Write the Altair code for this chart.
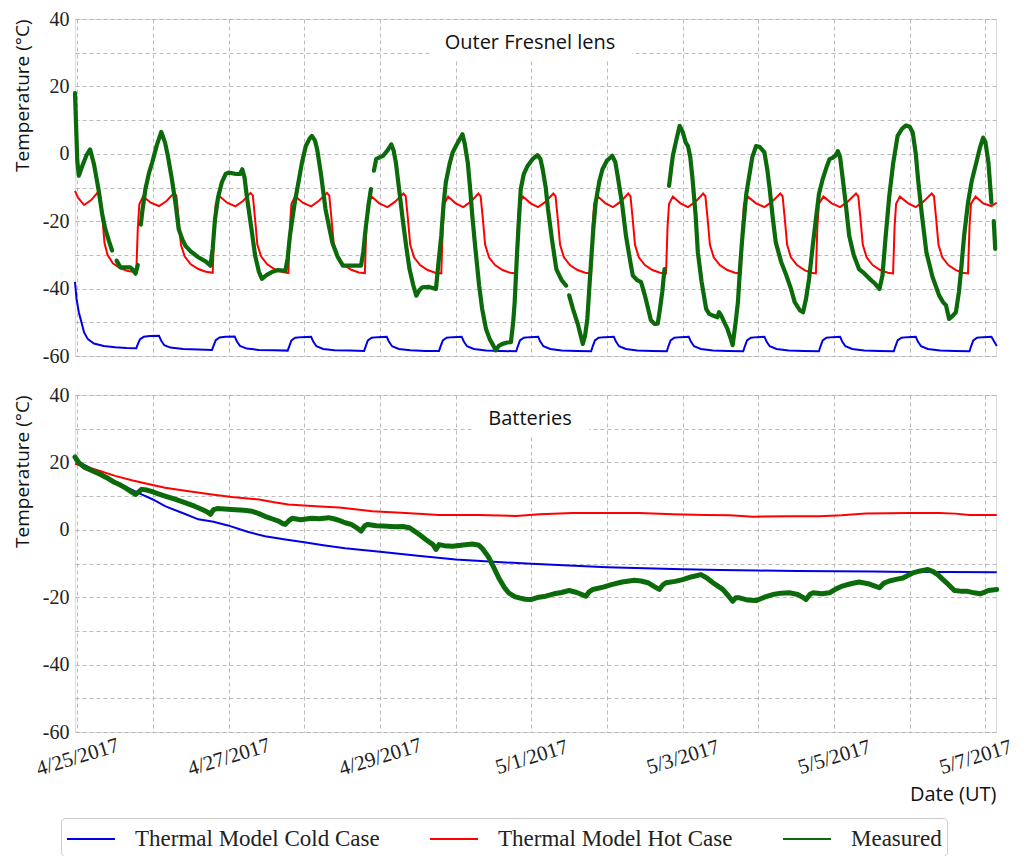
import altair as alt
import pandas as pd

# ---------------- data (t = days since 2017-04-25 00:00 UT) ----------------
series_names = ["Thermal Model Cold Case", "Thermal Model Hot Case", "Measured"]
series_colors = ["#0000e6", "#ff0000", "#0b6b0b"]
panel_titles = ["Outer Fresnel lens", "Batteries"]
x_tick_days = list(range(0, 13))
x_tick_labels = ["4/25/2017", "", "4/27/2017", "", "4/29/2017", "", "5/1/2017", "",
                 "5/3/2017", "", "5/5/2017", "", "5/7/2017"]
y_ticks = [-60, -50, -40, -30, -20, -10, 0, 10, 20, 30, 40]

# Outer Fresnel lens -- measured (None = gap in the record)
lens_measured = [
    (-0.03, 18.0), (-0.015, 8.0), (0.00, -2.0), (0.02, -6.5), (0.06, -4.0), (0.12, -0.5), (0.17, 1.3),
    (0.22, -3.0), (0.28, -10.5), (0.33, -18.0), (0.37, -22.3), (0.42, -26.0), (0.46, -28.7), None,
    (0.52, -31.7), (0.57, -33.7), (0.70, -33.7), (0.74, -34.5), (0.77, -35.6), (0.80, -33.0), None,
    (0.84, -21.0), (0.86, -17.0), (0.90, -10.5), (0.95, -5.5), (0.99, -2.6), (1.05, 2.5), (1.11, 6.5),
    (1.16, 3.3), (1.20, -1.0), (1.25, -7.5), (1.30, -15.0), (1.34, -22.3), (1.39, -25.5), (1.43, -27.3),
    (1.50, -29.0), (1.60, -30.7), (1.70, -32.0), (1.76, -33.2), (1.79, -28.0), (1.82, -19.4), (1.86, -13.0),
    (1.91, -8.5), (1.96, -6.0), (2.00, -5.6), (2.10, -6.0), (2.15, -6.0), (2.18, -4.6), (2.21, -7.0),
    (2.24, -12.5), (2.30, -22.0), (2.35, -30.2), (2.40, -35.0), (2.44, -37.1), (2.50, -36.0), (2.57, -35.1),
    (2.65, -34.5), (2.75, -34.7), (2.78, -31.0), (2.81, -24.3), (2.87, -15.0), (2.93, -7.5), (2.97, -2.5),
    (3.02, 2.3), (3.07, 4.5), (3.10, 5.3), (3.14, 4.0), (3.17, 1.3), (3.22, -6.0), (3.28, -16.4),
    (3.33, -22.0), (3.37, -26.3), (3.44, -30.5), (3.51, -33.2), (3.60, -33.2), (3.75, -33.2), (3.78, -29.0),
    (3.81, -22.3), (3.85, -15.0), (3.88, -10.5), None, (3.92, -5.0), (3.95, -1.6), (4.00, -1.0),
    (4.04, -0.6), (4.10, 1.0), (4.15, 2.8), (4.18, 1.0), (4.21, -2.6), (4.25, -10.0), (4.30, -19.4),
    (4.35, -28.0), (4.39, -34.2), (4.44, -39.0), (4.48, -42.1), (4.52, -40.5), (4.56, -39.6), (4.65, -39.5),
    (4.74, -40.1), (4.77, -33.0), (4.81, -24.3), (4.84, -15.0), (4.87, -8.5), (4.92, -3.0), (4.96, 0.4),
    (5.02, 3.0), (5.09, 5.8), (5.12, 3.0), (5.16, -2.6), (5.19, -10.0), (5.22, -18.4), (5.26, -28.0),
    (5.31, -39.1), (5.35, -46.0), (5.40, -51.9), (5.45, -55.0), (5.50, -57.0), (5.53, -58.3), (5.57, -57.0),
    (5.62, -56.4), (5.68, -56.0), (5.73, -55.9), (5.76, -50.0), (5.78, -44.0), (5.81, -30.0), (5.84, -18.0),
    (5.86, -10.5), (5.90, -6.0), (5.95, -3.6), (6.02, -1.5), (6.08, -0.4), (6.12, -1.5), (6.15, -4.6),
    (6.19, -10.0), (6.22, -16.4), (6.27, -25.0), (6.33, -34.2), (6.40, -37.5), (6.46, -39.1), None,
    (6.50, -42.0), (6.55, -46.0), (6.62, -51.0), (6.68, -56.4), (6.71, -54.0), (6.74, -49.0), (6.78, -35.0),
    (6.82, -22.0), (6.85, -14.5), (6.90, -8.0), (6.94, -4.6), (7.00, -2.0), (7.07, -0.6), (7.11, -2.5),
    (7.14, -6.5), (7.20, -15.0), (7.25, -24.3), (7.30, -31.0), (7.34, -36.1), (7.40, -37.5), (7.45, -38.1),
    (7.50, -42.0), (7.58, -49.4), (7.63, -50.5), (7.67, -50.4), (7.70, -46.0), (7.73, -41.0), (7.76, -34.2),
    None, (7.82, -9.5), (7.85, -4.0), (7.87, -0.6), (7.92, 4.5), (7.96, 8.3), (8.00, 6.5), (8.04, 3.3),
    (8.07, 2.3), (8.10, -1.0), (8.13, -7.5), (8.17, -18.0), (8.20, -29.2), (8.25, -38.0), (8.31, -46.0),
    (8.35, -47.5), (8.40, -48.0), (8.46, -48.5), (8.48, -47.0), (8.51, -48.0), (8.55, -50.0), (8.59, -51.9),
    (8.63, -54.5), (8.66, -56.8), (8.70, -50.0), (8.73, -44.0), (8.76, -33.0), (8.79, -24.3), (8.84, -12.0),
    (8.88, -6.5), (8.92, -1.0), (8.97, 2.3), (9.02, 2.0), (9.08, 0.4), (9.12, -5.0), (9.15, -10.5),
    (9.19, -19.0), (9.23, -26.3), (9.30, -32.0), (9.37, -36.1), (9.43, -40.0), (9.48, -44.0), (9.55, -46.5),
    (9.59, -47.0), (9.63, -43.0), (9.67, -37.1), (9.72, -27.0), (9.76, -19.4), (9.80, -12.0), (9.85, -7.5),
    (9.90, -4.0), (9.94, -1.6), (9.98, -1.2), (10.02, -0.5), (10.05, 0.8), (10.08, -1.0), (10.11, -6.5),
    (10.15, -14.0), (10.20, -24.3), (10.26, -30.0), (10.33, -34.2), (10.40, -35.5), (10.47, -37.1),
    (10.54, -38.5), (10.60, -40.1), (10.64, -36.1), (10.68, -25.0), (10.73, -12.5), (10.78, -3.0),
    (10.84, 5.3), (10.90, 7.5), (10.95, 8.4), (11.00, 8.0), (11.04, 6.3), (11.08, 0.0), (11.11, -7.5),
    (11.16, -18.0), (11.22, -29.2), (11.30, -36.5), (11.39, -42.1), (11.44, -44.0), (11.48, -45.0),
    (11.52, -49.0), (11.57, -48.0), (11.61, -47.0), (11.65, -41.0), (11.68, -34.2), (11.72, -24.0),
    (11.77, -14.5), (11.82, -8.0), (11.88, -2.6), (11.93, 2.0), (11.97, 4.8), (12.00, 3.5), (12.04, -2.6),
    (12.08, -14.5), None, (12.11, -20.0), (12.13, -28.2),
]

lens_hot = [
    (-0.03, -11.0), (0.01, -13.0), (0.09, -15.2), (0.18, -13.8), (0.27, -11.5), (0.30, -12.2), (0.33, -18.5),
    (0.36, -26.5), (0.40, -30.0), (0.47, -32.5), (0.57, -34.0), (0.67, -34.8), (0.78, -35.2),
    (0.80, -22.0), (0.82, -15.0), (0.87, -12.6), (0.97, -14.5), (1.08, -15.5), (1.18, -14.0), (1.28, -11.6),
    (1.31, -12.4), (1.34, -19.5), (1.37, -27.0), (1.42, -30.5), (1.50, -32.8), (1.60, -34.2), (1.70, -35.0),
    (1.79, -35.3),
    (1.81, -21.5), (1.83, -14.8), (1.88, -12.6), (1.98, -14.5), (2.09, -15.6), (2.19, -14.0), (2.29, -11.6),
    (2.32, -12.4), (2.35, -19.5), (2.38, -27.0), (2.43, -30.5), (2.51, -32.8), (2.61, -34.3), (2.71, -35.1),
    (2.79, -35.4),
    (2.81, -21.5), (2.83, -14.8), (2.88, -12.6), (2.98, -14.5), (3.09, -15.6), (3.19, -14.0), (3.30, -11.6),
    (3.33, -12.4), (3.36, -19.5), (3.39, -27.0), (3.44, -30.5), (3.52, -32.9), (3.62, -34.4), (3.72, -35.2),
    (3.80, -35.4),
    (3.82, -21.5), (3.84, -14.8), (3.89, -12.7), (3.99, -14.7), (4.10, -15.8), (4.20, -14.2), (4.31, -11.8),
    (4.34, -12.6), (4.37, -19.5), (4.40, -27.0), (4.45, -30.7), (4.53, -33.0), (4.63, -34.5), (4.73, -35.3),
    (4.81, -35.5),
    (4.83, -21.5), (4.85, -14.8), (4.90, -12.7), (5.00, -14.7), (5.10, -15.8), (5.20, -14.2), (5.30, -11.8),
    (5.33, -12.6), (5.36, -19.5), (5.39, -27.0), (5.44, -30.7), (5.52, -33.0), (5.62, -34.5), (5.72, -35.3),
    (5.80, -35.5),
    (5.82, -21.5), (5.84, -14.8), (5.89, -12.7), (5.99, -14.7), (6.09, -15.8), (6.19, -14.2), (6.29, -11.8),
    (6.32, -12.6), (6.35, -19.5), (6.38, -27.0), (6.43, -30.7), (6.51, -33.0), (6.61, -34.5), (6.71, -35.3),
    (6.79, -35.5),
    (6.81, -21.5), (6.83, -14.8), (6.88, -12.7), (6.98, -14.7), (7.08, -15.8), (7.18, -14.2), (7.28, -11.8),
    (7.31, -12.6), (7.34, -19.5), (7.37, -27.0), (7.42, -30.7), (7.50, -33.0), (7.60, -34.5), (7.70, -35.3),
    (7.78, -35.5),
    (7.80, -21.5), (7.82, -14.8), (7.87, -12.7), (7.97, -14.7), (8.07, -15.8), (8.17, -14.2), (8.27, -11.8),
    (8.30, -12.6), (8.33, -19.5), (8.36, -27.0), (8.41, -30.7), (8.49, -33.0), (8.59, -34.5), (8.69, -35.3),
    (8.77, -35.5),
    (8.79, -21.5), (8.81, -14.8), (8.86, -12.7), (8.97, -14.7), (9.08, -15.8), (9.18, -14.2), (9.29, -11.8),
    (9.32, -12.6), (9.35, -19.5), (9.38, -27.0), (9.43, -30.7), (9.51, -33.0), (9.61, -34.5), (9.70, -35.3),
    (9.76, -35.5),
    (9.78, -21.5), (9.80, -14.8), (9.86, -12.7), (9.97, -14.7), (10.08, -15.8), (10.18, -14.2), (10.29, -11.8),
    (10.32, -12.6), (10.35, -19.5), (10.38, -27.0), (10.43, -30.7), (10.51, -33.0), (10.61, -34.5),
    (10.71, -35.3), (10.78, -35.5),
    (10.80, -21.5), (10.82, -14.8), (10.87, -12.7), (10.98, -14.7), (11.08, -15.8), (11.18, -14.2),
    (11.29, -11.8), (11.32, -12.6), (11.35, -19.5), (11.38, -27.0), (11.43, -30.7), (11.51, -33.0),
    (11.61, -34.5), (11.70, -35.3), (11.77, -35.5),
    (11.79, -21.5), (11.81, -14.8), (11.87, -12.7), (11.97, -14.7), (12.08, -15.5), (12.15, -14.5),
]

lens_cold = [
    (-0.03, -38.0), (-0.01, -43.0), (0.02, -47.0), (0.05, -49.5), (0.09, -53.0), (0.14, -55.0), (0.22, -56.3),
    (0.35, -57.0), (0.50, -57.4), (0.65, -57.6), (0.78, -57.7),
    (0.80, -56.5), (0.83, -55.0), (0.88, -54.3), (0.96, -54.1), (1.08, -54.0), (1.11, -55.5), (1.15, -56.8),
    (1.23, -57.5), (1.40, -57.9), (1.60, -58.1), (1.78, -58.2),
    (1.80, -57.0), (1.83, -55.3), (1.88, -54.5), (1.96, -54.3), (2.08, -54.2), (2.11, -55.7), (2.15, -57.0),
    (2.24, -57.8), (2.40, -58.2), (2.60, -58.3), (2.78, -58.4),
    (2.80, -57.2), (2.83, -55.4), (2.88, -54.6), (2.96, -54.4), (3.09, -54.3), (3.12, -55.8), (3.16, -57.1),
    (3.25, -57.9), (3.40, -58.3), (3.60, -58.4), (3.79, -58.5),
    (3.81, -57.2), (3.84, -55.4), (3.89, -54.6), (3.97, -54.4), (4.09, -54.3), (4.12, -55.8), (4.16, -57.1),
    (4.25, -57.9), (4.40, -58.3), (4.60, -58.5), (4.78, -58.5),
    (4.80, -57.2), (4.83, -55.4), (4.88, -54.6), (4.96, -54.4), (5.08, -54.3), (5.11, -55.8), (5.15, -57.1),
    (5.24, -57.9), (5.40, -58.4), (5.60, -58.5), (5.80, -58.6),
    (5.82, -57.2), (5.85, -55.4), (5.90, -54.6), (5.98, -54.4), (6.09, -54.3), (6.12, -55.8), (6.16, -57.1),
    (6.25, -57.9), (6.40, -58.4), (6.60, -58.5), (6.79, -58.6),
    (6.81, -57.2), (6.84, -55.4), (6.89, -54.6), (6.97, -54.4), (7.09, -54.3), (7.12, -55.8), (7.16, -57.1),
    (7.25, -57.9), (7.40, -58.4), (7.60, -58.5), (7.79, -58.6),
    (7.81, -57.2), (7.84, -55.4), (7.89, -54.6), (7.97, -54.4), (8.08, -54.3), (8.11, -55.8), (8.15, -57.1),
    (8.24, -57.9), (8.40, -58.4), (8.60, -58.5), (8.80, -58.6),
    (8.82, -57.2), (8.85, -55.4), (8.90, -54.6), (8.98, -54.4), (9.08, -54.3), (9.11, -55.8), (9.15, -57.1),
    (9.24, -57.9), (9.40, -58.4), (9.60, -58.5), (9.80, -58.6),
    (9.82, -57.2), (9.85, -55.4), (9.90, -54.6), (9.98, -54.4), (10.08, -54.3), (10.11, -55.8),
    (10.15, -57.1), (10.24, -57.9), (10.40, -58.4), (10.60, -58.5), (10.79, -58.6),
    (10.81, -57.2), (10.84, -55.4), (10.89, -54.6), (10.97, -54.4), (11.08, -54.3), (11.11, -55.8),
    (11.15, -57.1), (11.24, -57.9), (11.40, -58.4), (11.60, -58.5), (11.79, -58.6),
    (11.81, -57.2), (11.84, -55.4), (11.89, -54.6), (11.97, -54.4), (12.08, -54.3), (12.11, -55.5),
    (12.15, -57.0),
]

# Batteries
batt_measured = [
    (-0.03, 21.6), (0.02, 19.9), (0.10, 18.5), (0.19, 17.6), (0.30, 16.5), (0.41, 15.2), (0.48, 14.2),
    (0.55, 13.5), (0.63, 12.5), (0.70, 11.5), (0.77, 10.5), (0.80, 11.0), (0.85, 12.0), (0.92, 11.8),
    (0.99, 11.3), (1.08, 10.6), (1.16, 10.0), (1.30, 9.0), (1.43, 8.0), (1.55, 7.0), (1.65, 6.0),
    (1.72, 5.3), (1.76, 4.6), (1.80, 6.0), (1.85, 6.3), (2.04, 6.0), (2.20, 5.8), (2.31, 5.5), (2.40, 4.8),
    (2.48, 4.0), (2.58, 3.2), (2.66, 2.6), (2.72, 1.8), (2.75, 1.6), (2.80, 2.8), (2.84, 3.4), (2.95, 3.0),
    (3.10, 3.4), (3.20, 3.3), (3.32, 3.6), (3.40, 3.2), (3.46, 2.8), (3.54, 2.1), (3.62, 1.6), (3.70, 0.5),
    (3.75, -0.4), (3.80, 1.2), (3.84, 1.6), (3.95, 1.2), (4.04, 1.1), (4.20, 0.9), (4.30, 1.0), (4.39, 0.6),
    (4.45, -0.3), (4.52, -1.4), (4.60, -2.8), (4.70, -4.4), (4.74, -5.8), (4.78, -4.4), (4.85, -4.7),
    (4.96, -4.9), (5.10, -4.5), (5.22, -4.2), (5.30, -4.5), (5.35, -5.5), (5.40, -7.0), (5.44, -8.3),
    (5.50, -11.0), (5.57, -14.3), (5.64, -17.0), (5.70, -18.7), (5.78, -19.8), (5.84, -20.2), (5.92, -20.6),
    (5.99, -20.7), (6.10, -20.0), (6.19, -19.7), (6.30, -19.0), (6.40, -18.6), (6.50, -18.0), (6.60, -18.6),
    (6.72, -19.7), (6.76, -18.5), (6.81, -17.7), (6.95, -17.0), (7.07, -16.2), (7.20, -15.5), (7.36, -15.0),
    (7.45, -15.2), (7.54, -15.7), (7.62, -16.8), (7.69, -17.7), (7.74, -16.3), (7.78, -15.7), (7.90, -15.3),
    (8.00, -14.8), (8.11, -14.0), (8.24, -13.3), (8.32, -14.3), (8.40, -15.7), (8.47, -16.8), (8.53, -17.7),
    (8.60, -19.5), (8.66, -21.2), (8.70, -20.2), (8.75, -20.2), (8.85, -20.8), (8.97, -21.0), (9.08, -20.0),
    (9.19, -19.2), (9.30, -18.8), (9.41, -18.7), (9.52, -19.2), (9.60, -20.2), (9.63, -20.7), (9.68, -19.2),
    (9.72, -18.7), (9.84, -19.0), (9.94, -18.7), (10.02, -17.6), (10.11, -16.7), (10.22, -16.0),
    (10.33, -15.5), (10.45, -16.0), (10.55, -16.8), (10.60, -17.2), (10.66, -15.8), (10.73, -15.2),
    (10.82, -14.7), (10.91, -14.3), (11.04, -12.8), (11.14, -12.2), (11.24, -11.8), (11.31, -12.4),
    (11.37, -13.3), (11.44, -14.8), (11.51, -16.2), (11.59, -18.0), (11.67, -18.2), (11.75, -18.2),
    (11.85, -18.7), (11.93, -19.0), (12.00, -18.4), (12.04, -18.0), (12.15, -17.7),
]

batt_hot = [
    (-0.03, 19.6), (0.28, 17.6), (0.50, 16.0), (0.72, 14.7), (0.95, 13.5), (1.16, 12.5), (1.45, 11.5),
    (1.78, 10.5), (2.04, 9.7), (2.40, 9.0), (2.60, 8.2), (2.79, 7.5), (3.15, 7.0), (3.46, 6.6), (3.70, 6.0),
    (3.90, 5.5), (4.34, 5.0), (4.78, 4.4), (5.31, 4.4), (5.80, 4.1), (6.11, 4.6), (6.55, 5.0), (7.00, 5.0),
    (7.43, 5.0), (7.87, 4.6), (8.30, 4.4), (8.62, 4.3), (8.93, 3.9), (9.40, 4.0), (9.81, 4.0), (10.10, 4.3),
    (10.42, 4.8), (11.00, 5.0), (11.39, 5.0), (11.60, 4.8), (11.79, 4.4), (12.15, 4.4),
]

batt_cold = [
    (-0.03, 20.5), (0.10, 19.2), (0.25, 17.5), (0.40, 15.6), (0.60, 13.2), (0.85, 10.5), (1.00, 9.0),
    (1.16, 7.0), (1.40, 4.9), (1.60, 3.1), (1.80, 2.4), (1.99, 1.3), (2.25, -0.6), (2.48, -1.9),
    (2.75, -2.9), (3.00, -3.7), (3.25, -4.6), (3.54, -5.5), (4.00, -6.5), (4.50, -7.7), (5.00, -8.8),
    (5.50, -9.5), (6.00, -10.1), (6.50, -10.6), (7.00, -11.1), (7.50, -11.4), (8.00, -11.7), (8.50, -11.9),
    (9.00, -12.1), (9.50, -12.2), (10.00, -12.3), (10.50, -12.4), (11.00, -12.5), (11.50, -12.5),
    (12.15, -12.6),
]


def to_frame(points, name):
    rows, seg = [], 0
    for p in points:
        if p is None:
            seg += 1
            continue
        rows.append({"t": p[0], "v": p[1], "series": name, "seg": seg})
    return pd.DataFrame(rows)


color_scale = alt.Scale(domain=series_names, range=series_colors)
legend = alt.Legend(
    title=None, orient="none", direction="horizontal", legendX=-14, legendY=799,
    symbolType="M-1,0H2.2", symbolSize=900, symbolStrokeWidth=2, labelOffset=37, columnPadding=46,
    labelFont="Liberation Serif", labelFontSize=23, labelColor="#222", labelLimit=500, padding=5,
    strokeColor="#cccccc", cornerRadius=4, fillColor="white",
)

x_label_expr = "[" + ",".join("'%s'" % s for s in x_tick_labels) + "][datum.value]"
y_label_expr = "datum.value % 20 === 0 ? '' + datum.value : ''"
GRID = dict(grid=True, gridColor="#aaaaaa", gridDash=[4, 3], gridWidth=0.8)
PLOT_H = 337


def panel(title_text, box_x, box_x2, cold, hot, meas, meas_width, bottom):
    if bottom:
        x_axis = alt.Axis(
            values=x_tick_days, labelExpr=x_label_expr, labelAngle=343,
            labelAlign="center", labelBaseline="middle", labelPadding=25, labelOverlap=False,
            labelFlush=False, labelFont="Liberation Serif", labelFontSize=21, labelColor="#222",
            labelOffset={"condition": {"test": "datum.value == 12", "value": -10}, "value": 0},
            ticks=False, domain=False,
            title="Date (UT)", titleAnchor="end", titleAlign="right",
            titleX=921, titleY=68, titleBaseline="alphabetic", titleFont="Open Sans",
            titleFontSize=20, titleFontWeight="normal", titleColor="#111", **GRID,
        )
    else:
        x_axis = alt.Axis(values=x_tick_days, labels=False, ticks=False, domain=False,
                          title=None, **GRID)
    xenc = alt.X("t:Q", scale=alt.Scale(domain=[-0.03, 12.14], nice=False, zero=False), axis=x_axis)
    yenc = alt.Y(
        "v:Q",
        scale=alt.Scale(domain=[-60, 40], nice=False, zero=False),
        axis=alt.Axis(
            values=y_ticks, labelExpr=y_label_expr, labelFont="Liberation Serif", labelFontSize=20,
            labelColor="#222", labelPadding=6, ticks=False, domain=False,
            title="Temperature (°C)", titleAnchor="end", titleFont="Open Sans", titleFontSize=19,
            titleFontWeight="normal", titleColor="#111", titlePadding=10, **GRID,
        ),
    )
    tdf = pd.DataFrame({"label": [title_text]})
    box = alt.Chart(tdf).mark_rect(color="white").encode(
        x=alt.value(box_x), x2=alt.value(box_x2), y=alt.value(1), y2=alt.value(42)
    )
    models = pd.concat([to_frame(cold, series_names[0]), to_frame(hot, series_names[1])])
    model_lines = alt.Chart(models).mark_line(strokeWidth=2).encode(
        x=xenc, y=yenc, detail="series:N",
        color=alt.Color("series:N", scale=color_scale, legend=legend),
    )
    meas_line = alt.Chart(to_frame(meas, series_names[2])).mark_line(
        strokeWidth=meas_width, strokeCap="round", strokeJoin="round"
    ).encode(
        x=xenc, y=yenc, detail="seg:N",
        color=alt.Color("series:N", scale=color_scale, legend=legend),
    )
    txt = alt.Chart(tdf).mark_text(
        font="Open Sans", fontSize=20, color="#111", align="center", baseline="alphabetic"
    ).encode(x=alt.value(455), y=alt.value(30), text="label:N")
    return alt.layer(box, model_lines, meas_line, txt).properties(width=921, height=PLOT_H)


top = panel(panel_titles[0], 354, 557, lens_cold, lens_hot, lens_measured, 4.2, False)
bottom = panel(panel_titles[1], 399, 514, batt_cold, batt_hot, batt_measured, 5.0, True)

chart = alt.vconcat(top, bottom, spacing=39, bounds="flush").properties(
    padding={"left": 4, "top": 0, "right": 0, "bottom": 0}
).configure_view(stroke="#555555", strokeWidth=1).configure(background="white")

chart.save("out.html", embed_options={"renderer": "svg", "actions": False})
